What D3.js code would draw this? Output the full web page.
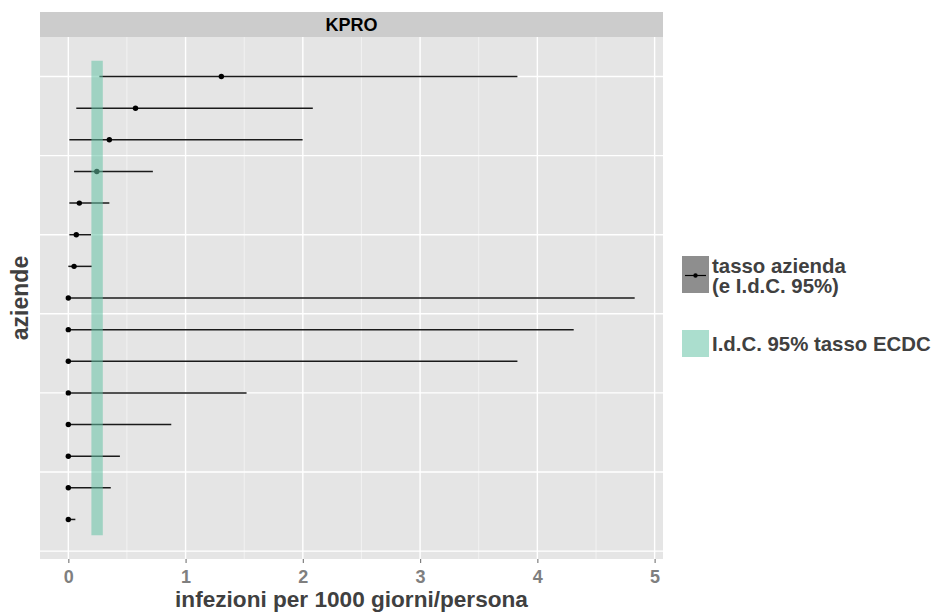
<!DOCTYPE html>
<html>
<head>
<meta charset="utf-8">
<script src="https://d3js.org/d3.v7.min.js"></script>
<style>
  body { margin: 0; background: #ffffff; }
  text { font-family: "Liberation Sans", Arial, sans-serif; font-weight: bold; }
</style>
</head>
<body>
<svg id="drawing_region"></svg>
<script>
// aziende numbered bottom (1) to top (15)
const aziende = [1, 2, 3, 4, 5, 6, 7, 8, 9, 10, 11, 12, 13, 14, 15];
const tasso = [0, 0, 0, 0, 0, 0, 0, 0, 0.049, 0.068, 0.094, 0.243, 0.35, 0.573, 1.305];
const lower = [0, 0, 0, 0, 0, 0, 0, 0, 0.0, 0.009, 0.009, 0.049, 0.009, 0.068, 0.265];
const upper = [0.06, 0.362, 0.44, 0.878, 1.52, 3.83, 4.31, 4.83, 0.2, 0.194, 0.35, 0.721, 1.998, 2.085, 3.83];
const ecdc = [0.197, 0.294];
const xticks = [0, 1, 2, 3, 4, 5];
const facet = "KPRO";
const legend_labels = [["tasso azienda", "(e I.d.C. 95%)"], ["I.d.C. 95% tasso ECDC"]];

const data = aziende.map((a, i) => ({ y: a, x: tasso[i], lo: lower[i], hi: upper[i] }));

class ForestPlot {

  constructor( config, data ) {
    this.config = config;
    this.data = data;
    this.init();
  }

  init() {
    let self = this;
    const m = self.config.margin;

    self.svg = d3.select( self.config.parent )
        .attr('width', self.config.width)
        .attr('height', self.config.height);

    self.inner_width = self.config.width - m.left - m.right;
    self.inner_height = self.config.height - m.top - m.bottom;

    // ggplot-style 5% expansion
    const xmax = d3.max( self.data, d => d.hi );
    const xpad = xmax * 0.05;
    self.xscale = d3.scaleLinear()
        .domain( [0 - xpad, xmax + xpad] )
        .range( [0, self.inner_width] );

    const ymin = 0.5, ymax = aziende.length + 0.5;
    const ypad = (ymax - ymin) * 0.05;
    self.yscale = d3.scaleLinear()
        .domain( [ymin - ypad, ymax + ypad] )
        .range( [self.inner_height, 0] );

    self.chart = self.svg.append('g')
        .attr('transform', `translate(${m.left}, ${m.top})`);
  }

  render() {
    let self = this;
    const W = self.inner_width, H = self.inner_height;

    // strip
    self.chart.append('rect')
        .attr('x', 0).attr('y', -self.config.strip)
        .attr('width', W).attr('height', self.config.strip)
        .attr('fill', '#cccccc');
    self.chart.append('text')
        .attr('x', W / 2).attr('y', -6)
        .attr('text-anchor', 'middle')
        .attr('font-size', '18px')
        .attr('fill', '#000')
        .text(facet);

    // panel
    self.chart.append('rect')
        .attr('width', W).attr('height', H)
        .attr('fill', '#e5e5e5');

    const minor = d3.range(0.5, 5, 1);
    self.chart.selectAll('.vminor')
        .data(minor).enter().append('line')
        .attr('x1', d => self.xscale(d)).attr('x2', d => self.xscale(d))
        .attr('y1', 0).attr('y2', H)
        .attr('stroke', '#f2f2f2').attr('stroke-width', 1);

    self.chart.selectAll('.vmajor')
        .data(xticks).enter().append('line')
        .attr('x1', d => self.xscale(d)).attr('x2', d => self.xscale(d))
        .attr('y1', 0).attr('y2', H)
        .attr('stroke', '#ffffff').attr('stroke-width', 1.4);

    const ybreaks = d3.range(0, 15.1, 2.5);
    self.chart.selectAll('.hmajor')
        .data(ybreaks).enter().append('line')
        .attr('y1', d => self.yscale(d)).attr('y2', d => self.yscale(d))
        .attr('x1', 0).attr('x2', W)
        .attr('stroke', '#ffffff').attr('stroke-width', 1.4);

    // intervals
    self.chart.selectAll('.ci')
        .data(self.data).enter().append('line')
        .attr('x1', d => self.xscale(d.lo)).attr('x2', d => self.xscale(d.hi))
        .attr('y1', d => self.yscale(d.y)).attr('y2', d => self.yscale(d.y))
        .attr('stroke', '#1a1a1a').attr('stroke-width', 1.5);

    self.chart.selectAll('circle')
        .data(self.data).enter().append('circle')
        .attr('cx', d => self.xscale(d.x))
        .attr('cy', d => self.yscale(d.y))
        .attr('r', 2.7)
        .attr('fill', '#000');

    // ECDC band
    self.chart.append('rect')
        .attr('x', self.xscale(ecdc[0]))
        .attr('width', self.xscale(ecdc[1]) - self.xscale(ecdc[0]))
        .attr('y', self.yscale(aziende.length + 0.5))
        .attr('height', self.yscale(0.5) - self.yscale(aziende.length + 0.5))
        .attr('fill', '#66c2a5').attr('fill-opacity', 0.55);

    // x axis
    const xaxis = d3.axisBottom(self.xscale).tickValues(xticks).tickSize(4).tickFormat(d3.format('d'));
    const xg = self.chart.append('g')
        .attr('transform', `translate(0, ${H})`)
        .call(xaxis);
    xg.select('.domain').remove();
    xg.selectAll('.tick line').attr('stroke', '#7f7f7f').attr('stroke-width', 1.2);
    xg.selectAll('.tick text')
        .attr('fill', '#7f7f7f')
        .attr('font-size', '18px')
        .attr('font-family', '"Liberation Sans", Arial, sans-serif')
        .attr('font-weight', 'bold')
        .attr('y', 9)
        .attr('dy', '0.85em');

    self.chart.append('text')
        .attr('x', W / 2).attr('y', H + 48)
        .attr('text-anchor', 'middle')
        .attr('font-size', '22.6px')
        .attr('fill', '#404040')
        .text('infezioni per 1000 giorni/persona');

    self.chart.append('text')
        .attr('transform', `translate(-12, ${H / 2}) rotate(-90)`)
        .attr('text-anchor', 'middle')
        .attr('font-size', '23px')
        .attr('fill', '#404040')
        .text('aziende');

    // legend
    const lg = self.svg.append('g')
        .attr('transform', `translate(682, 256)`);
    lg.append('rect')
        .attr('width', 27).attr('height', 37)
        .attr('fill', '#8e8e8e');
    lg.append('line')
        .attr('x1', 3).attr('x2', 24).attr('y1', 19.5).attr('y2', 19.5)
        .attr('stroke', '#000').attr('stroke-width', 1.2);
    lg.append('circle')
        .attr('cx', 13.5).attr('cy', 19.5).attr('r', 2.2).attr('fill', '#000');
    lg.selectAll('.l1')
        .data(legend_labels[0]).enter().append('text')
        .attr('x', 30).attr('y', (d, i) => 17 + i * 20)
        .attr('font-size', '20.4px')
        .attr('fill', '#404040')
        .text(d => d);

    lg.append('rect')
        .attr('y', 74).attr('width', 27).attr('height', 27)
        .attr('fill', '#66c2a5').attr('fill-opacity', 0.55);
    lg.append('text')
        .attr('x', 30).attr('y', 95)
        .attr('font-size', '20.4px')
        .attr('fill', '#404040')
        .text(legend_labels[1][0]);
  }
}

const config = {
  parent: '#drawing_region',
  width: 936,
  height: 612,
  strip: 25,
  margin: { top: 37, right: 273, bottom: 53, left: 40 }
};

const plot = new ForestPlot( config, data );
plot.render();
</script>
</body>
</html>
